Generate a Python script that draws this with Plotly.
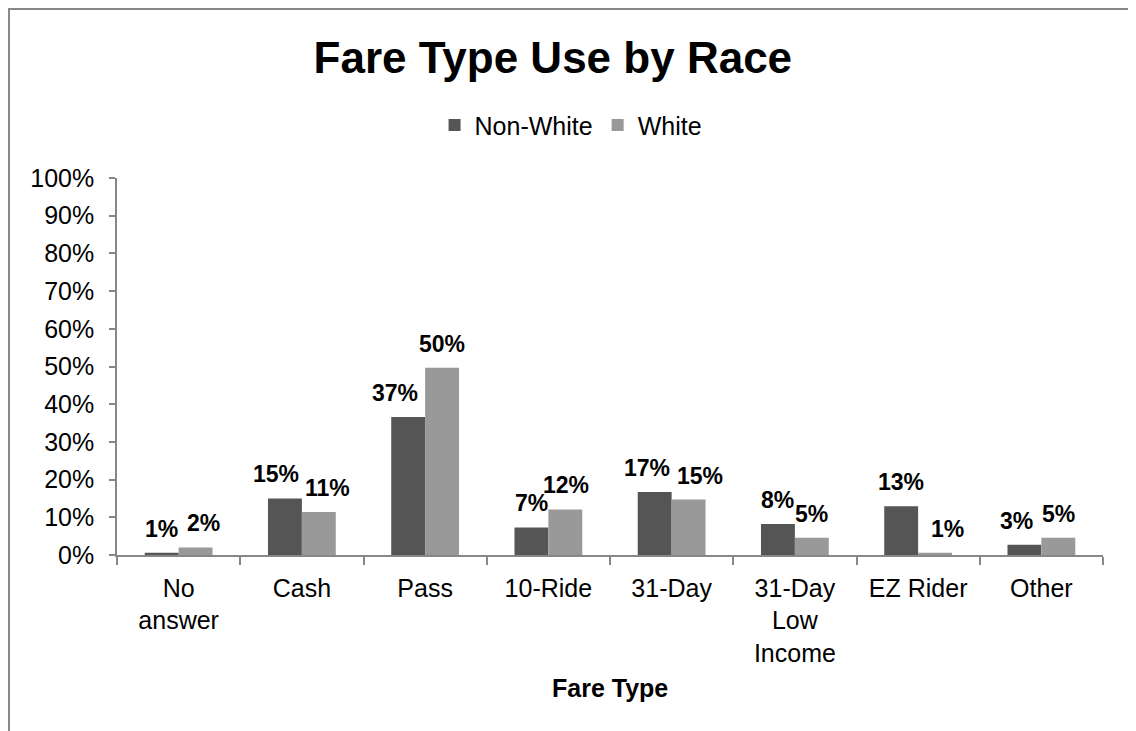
import plotly.graph_objects as go

categories = ["No<br>answer", "Cash", "Pass", "10-Ride", "31-Day", "31-Day<br>Low<br>Income", "EZ Rider", "Other"]
non_white = [0.006, 0.150, 0.366, 0.073, 0.167, 0.082, 0.129, 0.027]
white = [0.020, 0.114, 0.497, 0.121, 0.147, 0.046, 0.006, 0.046]
series_names = ["Non-White", "White"]
series_colors = ["#555555", "#999999"]

# small horizontal nudges (px) of the data labels, as placed in the original
label_nudge_nw = [0, -9, -13, 0, -8, 0, 0, -8]
label_nudge_w = [8, 9, 0, 1, 11, 0, 12, 0]

FONT = "Liberation Sans, Arial, sans-serif"

fig = go.Figure()
for name, vals, col in zip(series_names, [non_white, white], series_colors):
    fig.add_trace(go.Bar(
        x=categories, y=vals, name=name,
        marker=dict(color=col, line=dict(width=0)),
        hoverinfo="skip",
    ))

# data labels above each bar
for vals, base, nudges in [(non_white, -17, label_nudge_nw), (white, 17, label_nudge_w)]:
    for c, v, n in zip(categories, vals, nudges):
        fig.add_annotation(
            x=c, y=v, xref="x", yref="y",
            text=f"<b>{round(v * 100):.0f}%</b>",
            showarrow=False, xshift=base + n, yshift=9, yanchor="bottom",
            font=dict(family=FONT, size=23, color="black"),
        )

# axis title as annotation
fig.add_annotation(
    x=0.5, y=-0.353, xref="paper", yref="paper",
    text="<b>Fare Type</b>", showarrow=False, yanchor="middle",
    font=dict(family=FONT, size=25, color="black"),
)

# chart border
fig.add_shape(
    type="rect", xref="paper", yref="paper",
    x0=-0.1095, x1=1.0294, y0=-0.6, y1=1.448,
    line=dict(color="#878787", width=2), fillcolor="rgba(0,0,0,0)",
    layer="below",
)

fig.update_layout(
    width=1128, height=723, autosize=False,
    margin=dict(l=109, r=33, t=170, b=176, autoexpand=False),
    paper_bgcolor="white", plot_bgcolor="white",
    barmode="group", bargap=0.45, bargroupgap=0,
    font=dict(family=FONT, size=25, color="black"),
    title=dict(
        text="<b>Fare Type Use by Race</b>",
        x=0.483, xref="container", xanchor="center",
        y=0.932, yref="container", yanchor="middle",
        font=dict(family=FONT, size=44, color="black"),
    ),
    legend=dict(
        orientation="h", x=0.46, xref="paper", xanchor="center",
        y=1.14, yref="paper", yanchor="middle",
        font=dict(family=FONT, size=25, color="black"),
        itemwidth=30, tracegroupgap=0,
    ),
    showlegend=True,
)

fig.update_xaxes(
    showline=True, linecolor="#878787", linewidth=1.5,
    ticks="outside", tickson="boundaries", ticklen=8, tickcolor="#878787", tickwidth=1.5,
    showgrid=False, zeroline=False, automargin=False, tickangle=0,
    ticklabelstandoff=10,
    tickfont=dict(family=FONT, size=25, color="black"),
    fixedrange=True,
)
fig.update_yaxes(
    range=[0, 1], dtick=0.1, tickformat=".0%",
    showline=True, linecolor="#878787", linewidth=1.5,
    ticks="outside", ticklen=6, tickcolor="#878787", tickwidth=1.5,
    showgrid=False, zeroline=False, automargin=False,
    ticklabelstandoff=10,
    tickfont=dict(family=FONT, size=25, color="black"),
    fixedrange=True,
)

fig.write_html("out.html")
